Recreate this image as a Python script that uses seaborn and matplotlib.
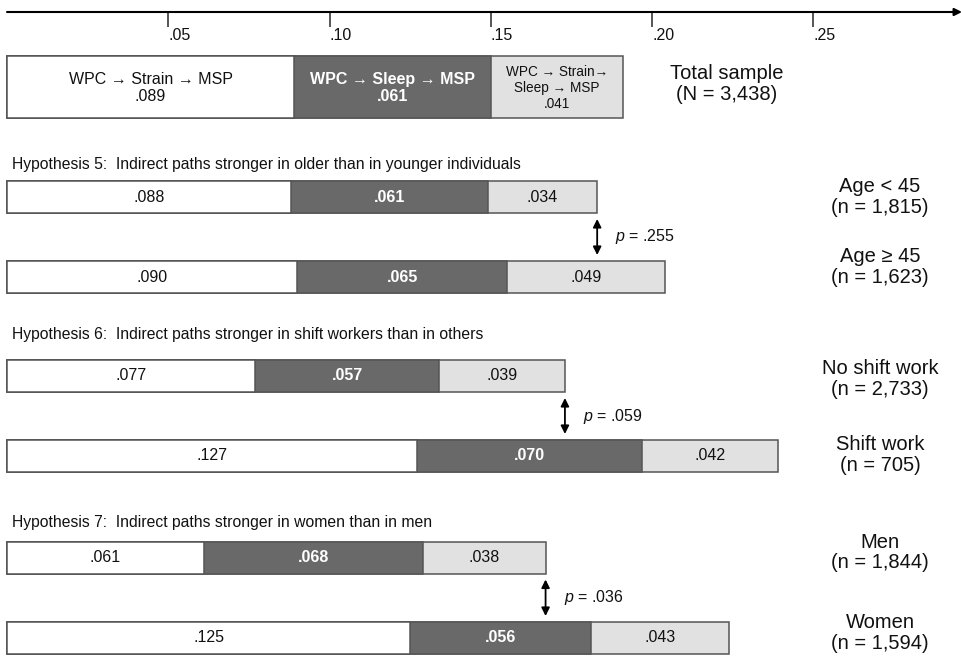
import numpy as np
import pandas as pd
import seaborn as sns
import matplotlib.pyplot as plt

sns.set_theme(style='white')
plt.rcParams['font.family'] = ['Liberation Sans', 'DejaVu Sans']
plt.rcParams['mathtext.fontset'] = 'custom'
plt.rcParams['mathtext.it'] = 'Liberation Sans:italic'

# indirect effects per group
groups = ['Total sample', 'Age < 45', 'Age \u2265 45', 'No shift work',
          'Shift work', 'Men', 'Women']
group_n = ['(N = 3,438)', '(n = 1,815)', '(n = 1,623)', '(n = 2,733)',
           '(n = 705)', '(n = 1,844)', '(n = 1,594)']
strain = [.089, .088, .090, .077, .127, .061, .125]
sleep = [.061, .061, .065, .057, .070, .068, .056]
strain_sleep = [.041, .034, .049, .039, .042, .038, .043]

path_names = ['WPC \u2192 Strain \u2192 MSP', 'WPC \u2192 Sleep \u2192 MSP',
              'WPC \u2192 Strain\u2192\nSleep \u2192 MSP']
hypotheses = ['Hypothesis 5:  Indirect paths stronger in older than in younger individuals',
              'Hypothesis 6:  Indirect paths stronger in shift workers than in others',
              'Hypothesis 7:  Indirect paths stronger in women than in men']
p_values = ['.255', '.059', '.036']
tick_vals = [.05, .10, .15, .20, .25]
tick_labels = ['.05', '.10', '.15', '.20', '.25']

# layout (y in pixels from top)
px = 3225.0                     # pixels per unit of effect
row_y = [87, 197, 277, 376, 456, 557.5, 638]
row_h = [62, 32, 32, 32, 32, 32, 32]
hyp_y = [164, 335, 523]
label_dy = [-3, 0, -10, 3, -1, -5, -5]
seg_colors = ['white', '#696969', '#e1e1e1']
edge = '#555555'
ink = '#111111'

df = pd.DataFrame({'group': groups, 'y': row_y, 'h': row_h,
                   'strain': strain, 'sleep': sleep, 'both': strain_sleep})
df['c1'] = df['strain']
df['c2'] = df['c1'] + df['sleep']
df['c3'] = df['c2'] + df['both']

fig = plt.figure(figsize=(9.62, 6.59), dpi=100)
ax = fig.add_axes([0, 0, 1, 1])

# stacked bars drawn as overlapping cumulative bars
for col, color in zip(['c3', 'c2', 'c1'], seg_colors[::-1]):
    for _, r in df.iterrows():
        sns.barplot(x=[r[col]], y=[r['y']], orient='y', native_scale=True,
                    width=r['h'], color=color, saturation=1,
                    edgecolor=edge, linewidth=1.1, errorbar=None, ax=ax)

# segment labels
for i, r in df.iterrows():
    lefts = [0, r['c1'], r['c2']]
    vals = [r['strain'], r['sleep'], r['both']]
    for k in range(3):
        num = f"{vals[k]:.3f}"[1:]
        cx = lefts[k] + vals[k] / 2
        if i == 0:
            txt = path_names[k] + '\n' + num
            fs = 11.5 if k < 2 else 9.8
            ls = 1.1 if k < 2 else 1.2
        else:
            txt, fs, ls = num, 11.5, 1.1
        ax.text(cx, r['y'] + (1 if i == 0 else 0), txt, ha='center', va='center',
                fontsize=fs, linespacing=ls,
                color='white' if k == 1 else ink,
                fontweight='bold' if k == 1 else 'normal')
    # group label at right
    lx = 727 if i == 0 else 880
    ax.text((lx - 7) / px, r['y'] + label_dy[i], groups[i] + '\n' + group_n[i],
            ha='center', va='center', fontsize=14.5, linespacing=1.1, color=ink)

# hypothesis headings
for hy, t in zip(hyp_y, hypotheses):
    ax.text(5 / px, hy, t, ha='left', va='center', fontsize=11.3, color=ink)

# p-value arrows between the two bars of each comparison
for j, p in enumerate(p_values):
    top = df.iloc[1 + 2 * j]
    bot = df.iloc[2 + 2 * j]
    xa = top['c3']
    y0 = top['y'] + top['h'] / 2 + 6
    y1 = bot['y'] - bot['h'] / 2 - 6
    ax.annotate('', xy=(xa, y0), xytext=(xa, y1),
                arrowprops=dict(arrowstyle='<|-|>', color='black', lw=1.3,
                                mutation_scale=12, shrinkA=0, shrinkB=0))
    ax.text(xa + 18 / px, (y0 + y1) / 2, r'$\it{p}$ = ' + p, ha='left', va='center',
            fontsize=11.5, color=ink)

# top scale axis with arrow
ax.annotate('', xy=(955 / px, 12), xytext=(0, 12),
            arrowprops=dict(arrowstyle='-|>', color='black', lw=1.5,
                            mutation_scale=11, shrinkA=0, shrinkB=0))
ax.vlines(tick_vals, 12, 27, color='#555555', lw=1.4)
for tv, tl in zip(tick_vals, tick_labels):
    ax.text(tv, 36, tl, ha='left', va='center', fontsize=11.5, color=ink)

ax.set_xlim(-7 / px, 955 / px)
ax.set_ylim(659, 0)
ax.axis('off')

fig.savefig('out.png', dpi=100, facecolor='white')
